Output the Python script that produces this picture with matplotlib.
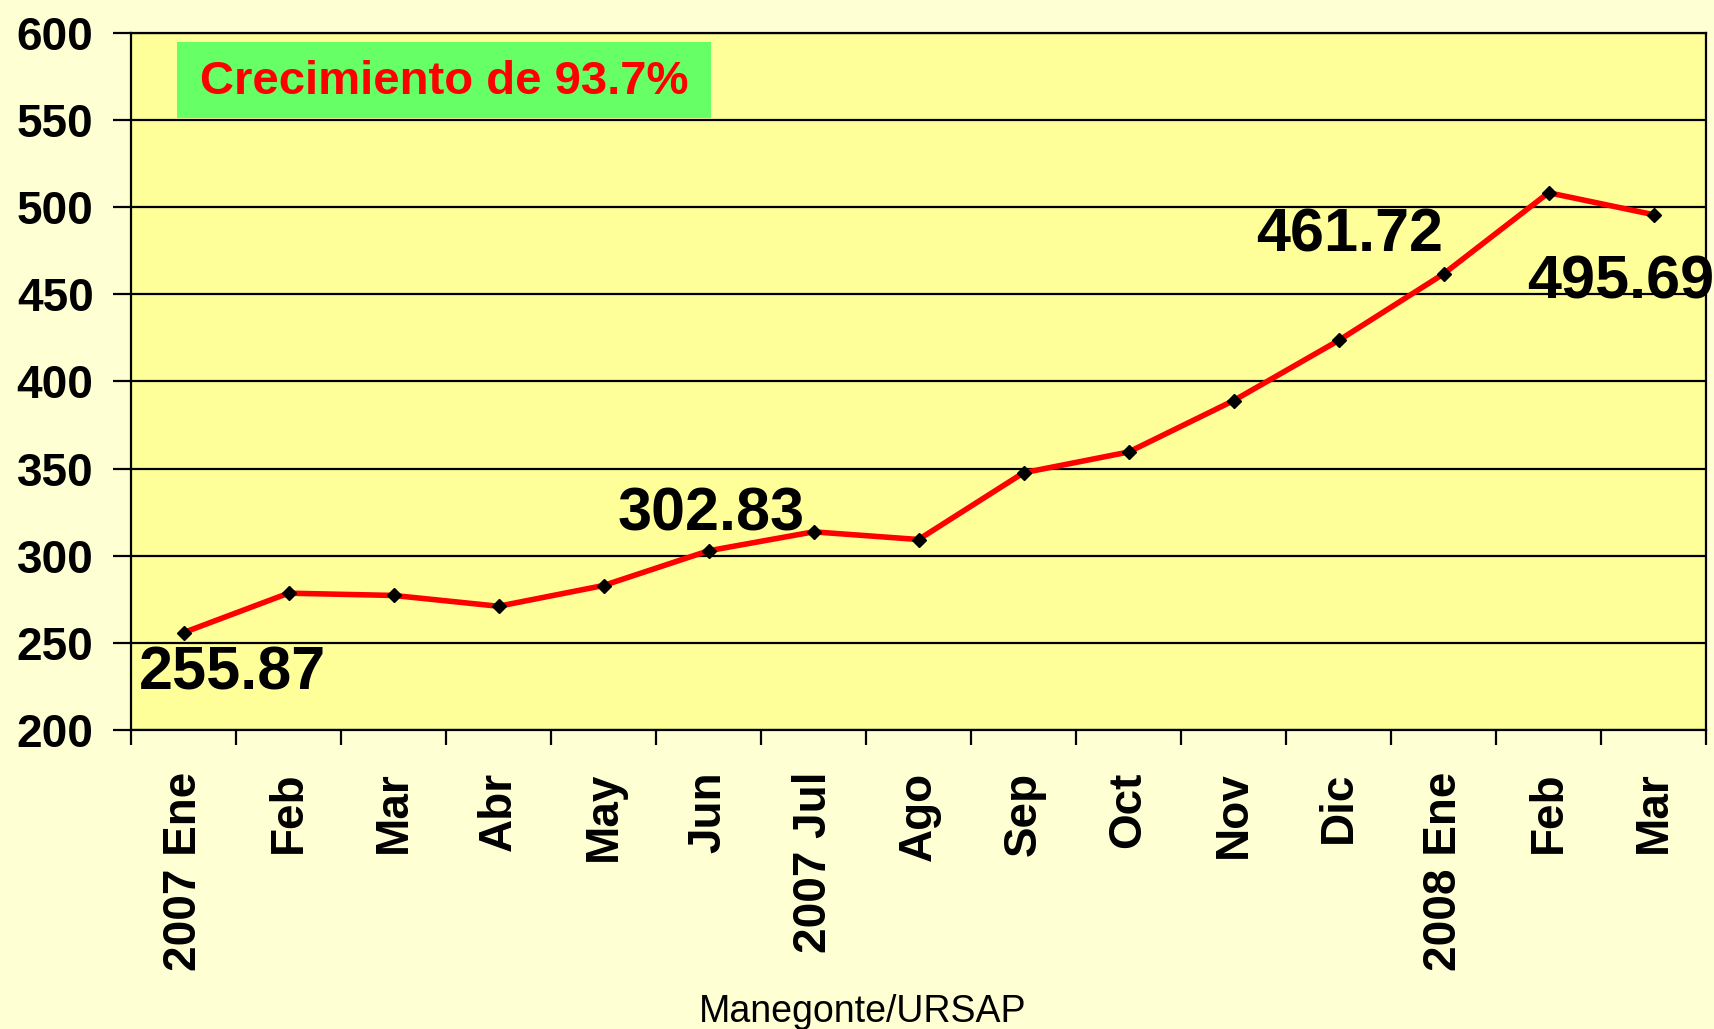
import matplotlib
matplotlib.use("Agg")
import matplotlib.pyplot as plt
from matplotlib.patches import Rectangle

# precio por mes (lectura aproximada del grafico)
meses = ["2007 Ene", "Feb", "Mar", "Abr", "May", "Jun", "2007 Jul", "Ago",
         "Sep", "Oct", "Nov", "Dic", "2008 Ene", "Feb", "Mar"]
valores = [255.87, 278.5, 277.2, 271.0, 282.9, 302.83, 313.7, 309.3,
           347.6, 359.5, 389.0, 423.5, 461.72, 508.3, 495.69]
etiquetas = {0: (35, -30), 5: (2, 26), 12: (-68, 27), 14: (-24, -49)}
yticks = [200, 250, 300, 350, 400, 450, 500, 550, 600]

fuente = ["Liberation Sans", "DejaVu Sans"]

fig = plt.figure(figsize=(17.15, 10.29), dpi=100, facecolor="#FFFFD4")
ax = fig.add_axes([0.0764, 0.2906, 0.9184, 0.6774])
ax.set_facecolor("#FFFF99")

x = list(range(len(meses)))
ax.plot(x, valores, color="#FF0000", lw=4, zorder=3)
ax.plot(x, valores, ls="none", marker="D", ms=7.5, color="black", zorder=4)

for i, off in etiquetas.items():
    ax.annotate(f"{valores[i]:.2f}", (x[i], valores[i]), xytext=off,
                textcoords="offset points", ha="center", va="center",
                fontsize=44, fontweight="bold", family=fuente, zorder=5)

ax.set_xlim(-0.5, len(meses) - 0.5)
ax.set_ylim(200, 600)
ax.set_yticks(yticks)
ax.set_yticklabels([str(v) for v in yticks], fontsize=33, fontweight="bold",
                   family=fuente)
ax.yaxis.grid(True, color="black", lw=1.6)
ax.set_axisbelow(True)
ax.tick_params(axis="y", length=13, width=1.6, pad=14)

ax.set_xticks(x)
ax.set_xticklabels(meses, rotation=90, fontsize=33, fontweight="bold",
                   family=fuente, va="top")
ax.set_xticks([i - 0.5 for i in range(len(meses) + 1)], minor=True)
ax.tick_params(axis="x", which="major", length=0, pad=30)
ax.tick_params(axis="x", which="minor", length=11, width=1.6)

for s in ax.spines.values():
    s.set_color("black")
    s.set_linewidth(1.6)

ax.add_patch(Rectangle((0.029, 0.878), 0.339, 0.109, transform=ax.transAxes,
                       facecolor="#66FF66", edgecolor="none", zorder=2))
ax.text(0.199, 0.930, "Crecimiento de 93.7%", transform=ax.transAxes,
        ha="center", va="center", color="#FF0000", fontsize=34,
        fontweight="bold", family=fuente, zorder=5)

fig.text(0.503, 0.017, "Manegonte/URSAP", ha="center", va="center",
         fontsize=27, family=fuente)

fig.savefig("out.png", dpi=100, facecolor=fig.get_facecolor())
